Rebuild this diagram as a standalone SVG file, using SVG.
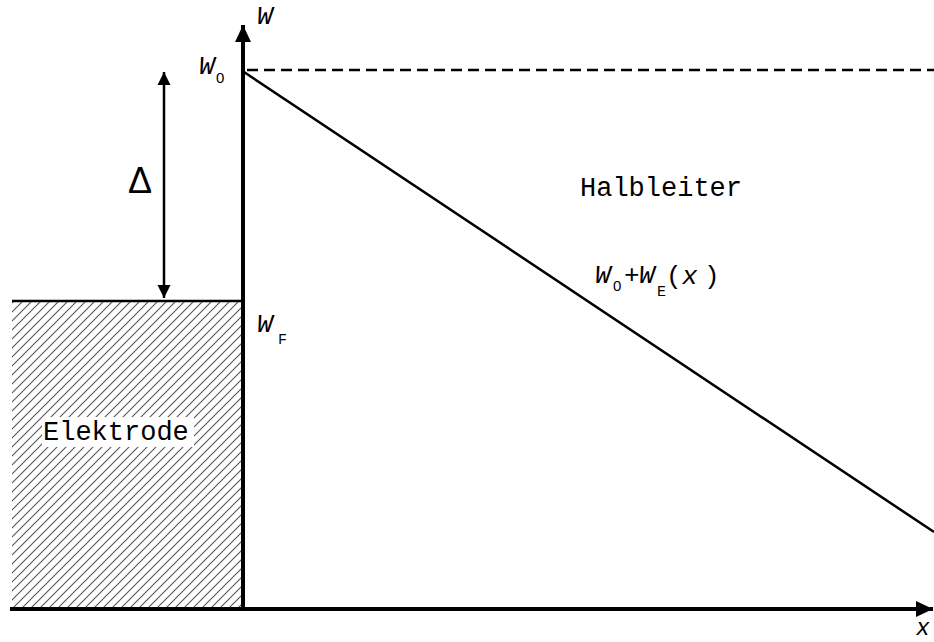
<svg xmlns="http://www.w3.org/2000/svg" width="934" height="642" viewBox="0 0 934 642">
  <style>
    .mono { font-family: "Liberation Mono", "DejaVu Sans Mono", monospace; fill: #000; }
    .it { font-style: italic; }
    .lbl { font-size: 26px; }
    .sub { font-size: 15px; }
    .line { stroke: #000; fill: none; stroke-width: 2.5; }
    .axis { stroke: #000; fill: none; stroke-width: 4; }
  </style>
  <defs>
    <pattern id="hatch" patternUnits="userSpaceOnUse" width="9" height="9">
      <path d="M-2,2 L2,-2 M0,9 L9,0 M7,11 L11,7" stroke="#555" stroke-width="1.1"/>
    </pattern>
    <marker id="arrAxis" markerUnits="userSpaceOnUse" markerWidth="18" markerHeight="16" refX="17" refY="8" orient="auto">
      <path d="M0,0 L17,8 L0,16 Z" fill="#000"/>
    </marker>
    <marker id="arrSmall" markerUnits="userSpaceOnUse" markerWidth="14" markerHeight="14" refX="13" refY="7" orient="auto-start-reverse">
      <path d="M0,0.5 L13,7 L0,13.5 Z" fill="#000"/>
    </marker>
  </defs>
  <rect width="934" height="642" fill="#fff"/>

  <g id="elektrode">
    <rect x="12" y="301" width="231" height="307" fill="url(#hatch)"/>
    <rect x="42" y="417" width="152" height="30" fill="#fff"/>
    <text class="mono" x="43" y="440" font-size="27">Elektrode</text>
  </g>

  <g id="halbleiter">
    <text class="mono" x="580" y="196" font-size="27">Halbleiter</text>
  </g>

  <g id="connectors">
    <line class="axis" x1="243" y1="610" x2="243" y2="25" marker-end="url(#arrAxis)"/>
    <line class="axis" x1="10" y1="609" x2="933" y2="609" marker-end="url(#arrAxis)"/>
    <line class="line" x1="12" y1="301" x2="243" y2="301"/>
    <line class="line" x1="247" y1="70" x2="934" y2="70" stroke-dasharray="11,6"/>
    <line class="line" x1="244" y1="72" x2="934" y2="532"/>
    <line class="line" x1="164" y1="72" x2="164" y2="298" marker-start="url(#arrSmall)" marker-end="url(#arrSmall)"/>
  </g>

  <g id="labels">
    <text x="140" y="193" font-family="Liberation Sans, sans-serif" font-size="36" text-anchor="middle">Δ</text>
    <text class="mono it lbl" x="257" y="24">W</text>
    <text class="mono it lbl" x="199" y="74">W</text>
    <text x="216" y="83" font-family="Liberation Sans, sans-serif" class="sub">0</text>
    <text class="mono it lbl" x="257" y="332">W</text>
    <text class="mono sub" x="278" y="344">F</text>
    <text class="mono it lbl" x="595" y="283">W</text>
    <text x="613" y="291" font-family="Liberation Sans, sans-serif" class="sub">0</text>
    <text class="mono lbl" x="624" y="283">+</text>
    <text class="mono it lbl" x="639" y="283">W</text>
    <text class="mono sub" x="657" y="296">E</text>
    <text class="mono lbl" x="666" y="284">(</text>
    <text class="mono it lbl" x="682" y="284">x</text>
    <text class="mono lbl" x="704" y="284">)</text>
    <text class="mono it" font-size="23" x="916" y="635">x</text>
  </g>
</svg>
